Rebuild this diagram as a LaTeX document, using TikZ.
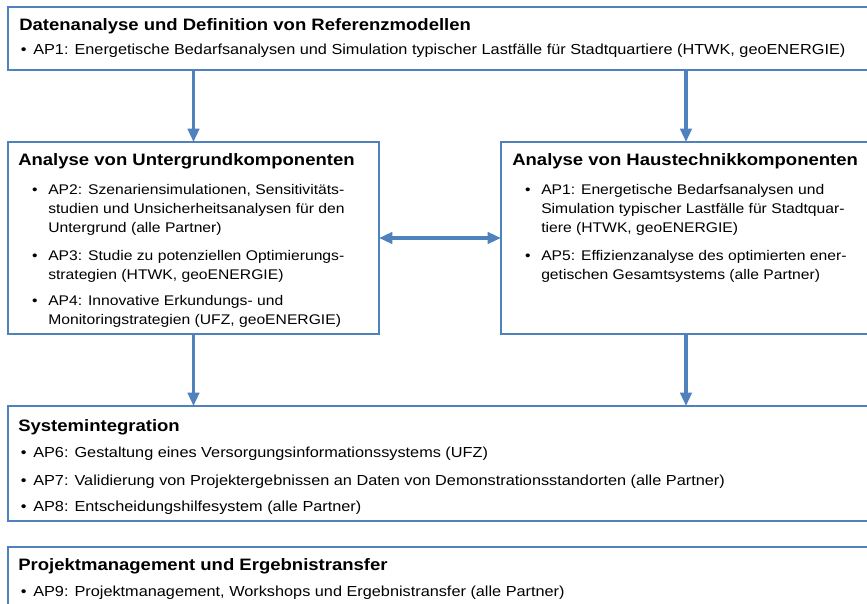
\documentclass[tikz,border=0pt]{standalone}
\usepackage{fontspec}
\setmainfont{Liberation Sans}[FakeStretch=1.12]
\usetikzlibrary{arrows.meta}
\definecolor{apblue}{RGB}{79,129,189}
\newcommand{\apdot}[1]{\llap{\textbullet\hspace{#1}}}

\begin{document}
\begin{tikzpicture}[x=0.75pt, y=-0.75pt,
	apbox/.style={draw=apblue, line width=1.5pt, rectangle, anchor=north west, inner sep=0pt, outer sep=0pt},
	aptitle/.style={anchor=base west, inner sep=0pt, font=\fontsize{12.4}{15}\selectfont\bfseries},
	apwide/.style={anchor=base west, inner sep=0pt, align=left, font=\fontsize{10.9}{14.25}\selectfont},
	apnarrow/.style={anchor=base west, inner sep=0pt, align=left, font=\fontsize{10.5}{14.25}\selectfont},
	aparrow/.style={draw=apblue, line width=2.4pt, -{Triangle[width=8.5pt, length=10pt]}},
	apboth/.style={draw=apblue, line width=2.4pt, {Triangle[width=8.5pt, length=10pt]}-{Triangle[width=8.5pt, length=10pt]}}]
			%%%%% START %%%%%
			
			\useasboundingbox (0, 0) rectangle (867, 603);
			\clip (0, 0) rectangle (867, 603);
			
			% the five boxes
			\node[apbox, minimum width=654pt, minimum height=47.25pt] (daten) at (8, 7) {};
			\node[apbox, minimum width=278.25pt, minimum height=144pt] (untergrund) at (8, 142) {};
			\node[apbox, minimum width=284.25pt, minimum height=144pt] (haustechnik) at (501, 142) {};
			\node[apbox, minimum width=654pt, minimum height=86.25pt] (system) at (8, 406) {};
			\node[apbox, minimum width=654pt, minimum height=60pt] (projekt) at (8, 547) {};
			\coordinate (hx) at (686, 0);
			
			% Datenanalyse
			\node[aptitle] (t-daten) at (19, 31) {Datenanalyse und Definition von Referenzmodellen};
			\node[apwide] (i-ap1) at (33, 54) {\apdot{5pt}AP1: Energetische Bedarfsanalysen und Simulation typischer Lastfälle für Stadtquartiere (HTWK, geoENERGIE)};
			
			% Untergrund (multi-line nodes sit on their last line)
			\node[aptitle] (t-untergrund) at (18, 165) {Analyse von Untergrundkomponenten};
			\node[apnarrow] (i-ap2) at (48, 232) {\apdot{8pt}AP2: Szenariensimulationen, Sensitivitäts-\\studien und Unsicherheitsanalysen für den\\Untergrund (alle Partner)};
			\node[apnarrow] (i-ap3) at (48, 279) {\apdot{8pt}AP3: Studie zu potenziellen Optimierungs-\\strategien (HTWK, geoENERGIE)};
			\node[apnarrow] (i-ap4) at (48, 324) {\apdot{8pt}AP4: Innovative Erkundungs- und\\Monitoringstrategien (UFZ, geoENERGIE)};
			
			% Haustechnik
			\node[aptitle] (t-haustechnik) at (512, 165) {Analyse von Haustechnikkomponenten};
			\node[apnarrow] (i-ap1b) at (541, 232) {\apdot{8pt}AP1: Energetische Bedarfsanalysen und\\Simulation typischer Lastfälle für Stadtquar-\\tiere (HTWK, geoENERGIE)};
			\node[apnarrow] (i-ap5) at (541, 279) {\apdot{8pt}AP5: Effizienzanalyse des optimierten ener-\\getischen Gesamtsystems (alle Partner)};
			
			% Systemintegration
			\node[aptitle] (t-system) at (18, 431) {Systemintegration};
			\node[apwide] (i-ap6) at (33, 457) {\apdot{5pt}AP6: Gestaltung eines Versorgungsinformationssystems (UFZ)};
			\node[apwide] (i-ap7) at (33, 485) {\apdot{5pt}AP7: Validierung von Projektergebnissen an Daten von Demonstrationsstandorten (alle Partner)};
			\node[apwide] (i-ap8) at (33, 511) {\apdot{5pt}AP8: Entscheidungshilfesystem (alle Partner)};
			
			% Projektmanagement
			\node[aptitle] (t-projekt) at (18, 570) {Projektmanagement und Ergebnistransfer};
			\node[apwide] (i-ap9) at (33, 596) {\apdot{5pt}AP9: Projektmanagement, Workshops und Ergebnistransfer (alle Partner)};
			
			% arrows
			\draw[aparrow] (daten.south -| untergrund.north) -- (untergrund.north);
			\draw[aparrow] (daten.south -| hx) -- (haustechnik.north -| hx);
			\draw[apboth] (untergrund.east) -- (haustechnik.west);
			\draw[aparrow] (untergrund.south) -- (untergrund.south |- system.north);
			\draw[aparrow] (haustechnik.south -| hx) -- (system.north -| hx);
			
			%%%%% END %%%%%
\end{tikzpicture}
\end{document}
